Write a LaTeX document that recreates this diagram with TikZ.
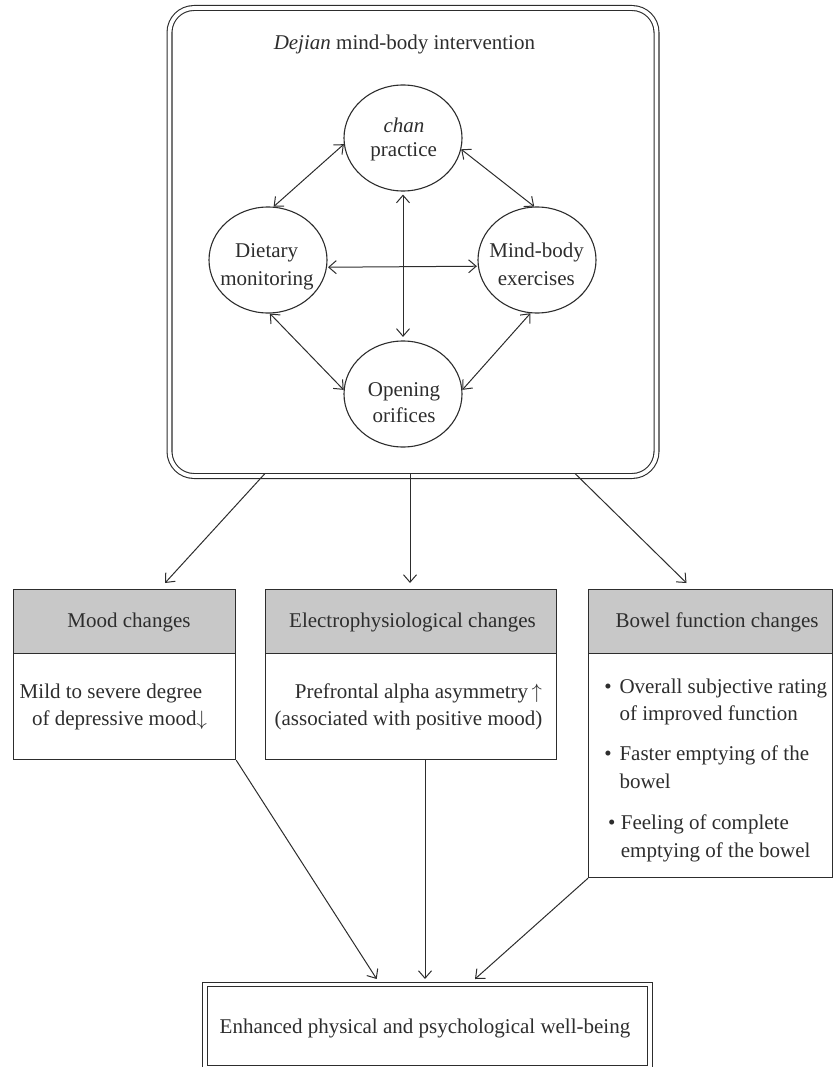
\documentclass[tikz,border=0pt]{standalone}
\usepackage{fontspec}
\setmainfont{Liberation Serif}
\usetikzlibrary{shapes.geometric,arrows.meta}
\definecolor{ln}{RGB}{45,45,45}
\definecolor{hdrfill}{RGB}{200,200,200}
\tikzset{
  every node/.style={font=\fontsize{21}{27}\selectfont, text=ln},
  tipv/.tip={Straight Barb[length=7.5pt,width=13pt]},
  arr/.style={draw=ln, line width=1pt, -tipv},
  darr/.style={draw=ln, line width=1pt, tipv-tipv},
  circ/.style={draw=ln, line width=1.1pt, ellipse, minimum width=118pt, minimum height=106pt, inner sep=0pt},
  hdr/.style={draw=ln, line width=1.2pt, fill=hdrfill, rectangle, inner sep=0pt, anchor=north west},
  bodybox/.style={draw=ln, line width=1.2pt, rectangle, inner sep=0pt, anchor=north west},
  txt/.style={anchor=base, inner sep=0pt},
  txtl/.style={anchor=base west, inner sep=0pt},
  dblbox/.style={draw=ln, line width=1.1pt, double, inner sep=0pt},
}
\begin{document}
\begin{tikzpicture}[x=1pt,y=-1pt]
\useasboundingbox (0,0) rectangle (833,1067);

% top container
\node[dblbox, double distance=3.8pt, rounded corners=24.5pt, minimum width=487pt, minimum height=468pt] (top) at (413,242) {};
\node[txt] (title) at (404.4,50) {\textit{Dejian} mind-body intervention};

% circles
\node[circ] (chan) at (403,138) {};
\node[circ] (diet) at (268,260) {};
\node[circ] (mind) at (537,260) {};
\node[circ] (open) at (403,394) {};

\node[txt] (chan1) at (404,132.7) {\textit{chan}};
\node[txt] (chan2) at (403.7,156.5) {practice};
\node[txt] (diet1) at (266.7,257.7) {Dietary};
\node[txt] (diet2) at (267,285) {monitoring};
\node[txt] (mind1) at (536.7,257.7) {Mind-body};
\node[txt] (mind2) at (536.3,285) {exercises};
\node[txt] (open1) at (404,396.7) {Opening};
\node[txt] (open2) at (404,422.7) {orifices};

% inner connectors
\draw[darr] (chan.186.6) -- (diet.84.6);
\draw[darr] (chan.349.7) -- (mind.93.8);
\draw[darr, shorten <=3pt, shorten >=3.5pt] (chan.south) -- (open.north);
\draw[darr, shorten <=1pt, shorten >=1pt] (diet.353.1) -- (mind.186.9);
\draw[darr] (diet.272.8) -- (open.176.2);
\draw[darr] (mind.263.8) -- (open.4.5);

% three boxes
\node[hdr, minimum width=222pt, minimum height=64pt] (mh) at (13,589) {};
\node[bodybox, minimum width=222pt, minimum height=106pt] (mb) at (13,653) {};
\node[hdr, minimum width=291pt, minimum height=64pt] (eh) at (265,589) {};
\node[bodybox, minimum width=291pt, minimum height=106pt] (eb) at (265,653) {};
\node[hdr, minimum width=244pt, minimum height=64pt] (bh) at (588,589) {};
\node[bodybox, minimum width=244pt, minimum height=224pt] (bb) at (588,653) {};

\node[txt] (mht) at (129,627.5) {Mood changes};
\node[txt] (eht) at (412.5,627.5) {Electrophysiological changes};
\node[txt] (bht) at (717,627.5) {Bowel function changes};

\node[txt] (mb1) at (111,698.3) {Mild to severe degree};
\node[txt] (mb2) at (119.5,725.5) {of depressive mood$\downarrow$};

\node[txt] (eb1) at (418.5,698.3) {Prefrontal alpha asymmetry\,$\uparrow$};
\node[txt] (eb2) at (408.5,725.5) {(associated with positive mood)};

\node[txt] (bu1) at (608,693) {\textbullet};
\node[txtl] (bb1) at (619.3,693) {Overall subjective rating};
\node[txtl] (bb2) at (619.3,720) {of improved function};
\node[txt] (bu2) at (608,760) {\textbullet};
\node[txtl] (bb3) at (619.3,760) {Faster emptying of the};
\node[txtl] (bb4) at (619.3,788) {bowel};
\node[txt] (bu3) at (611.7,829) {\textbullet};
\node[txtl] (bb5) at (620.7,829) {Feeling of complete};
\node[txtl] (bb6) at (620.7,857) {emptying of the bowel};

% bottom box
\node[dblbox, double distance=3.3pt, minimum width=445pt, minimum height=83pt] (bot) at (427.5,1026) {};
\node[txt] (bott) at (425,1033) {Enhanced physical and psychological well-being};

% connectors top -> boxes
\coordinate (s1) at (265,473.5);
\coordinate (s2) at (410,473.5);
\coordinate (s3) at (575,473.5);
\coordinate (e1) at (165,583);
\coordinate (e2) at (410,583);
\coordinate (e3) at (686.5,583);
\draw[arr] (s1) -- (e1);
\draw[arr] (s2) -- (e2);
\draw[arr] (s3) -- (e3);

% connectors boxes -> bottom
\coordinate (c2) at (425,759);
\coordinate (f1) at (376.7,979);
\coordinate (f2) at (425,979);
\coordinate (f3) at (475,979);
\draw[arr] (mb.south east) -- (f1);
\draw[arr] (c2) -- (f2);
\draw[arr] (bb.south west) -- (f3);
\end{tikzpicture}
\end{document}
